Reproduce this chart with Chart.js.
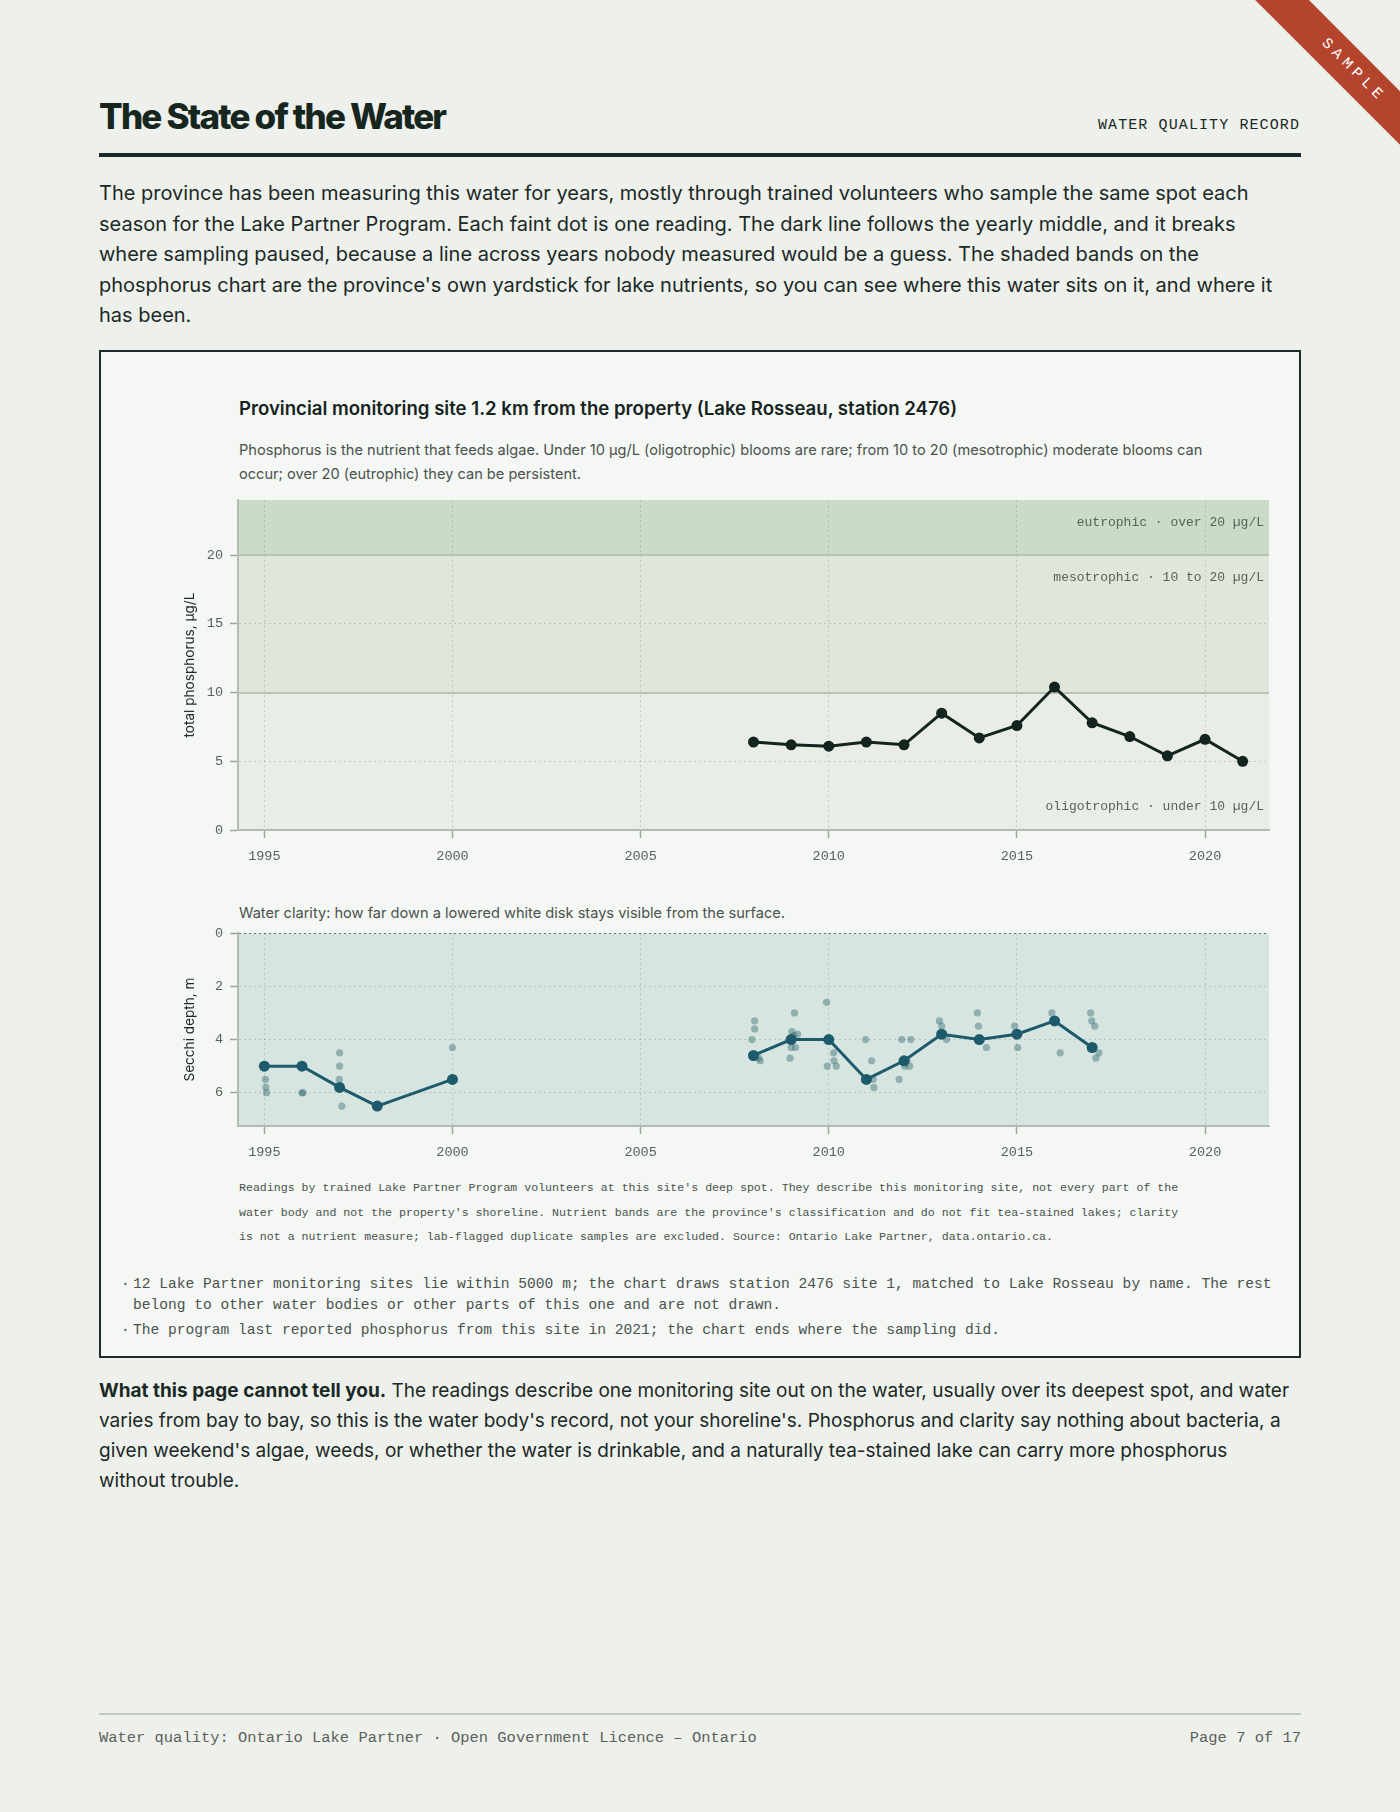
<!DOCTYPE html>
<html>
<head>
<meta charset="utf-8">
<title>The State of the Water</title>
<script src="https://cdn.jsdelivr.net/npm/chart.js@4.4.0/dist/chart.umd.min.js"></script>
<style>
  html, body { margin: 0; padding: 0; }
  body {
    width: 1400px; height: 1812px; position: relative; overflow: hidden;
    background: #eef0eb; color: #1b2926;
    font-family: Inter, Roboto, "Noto Sans", sans-serif;
  }
  .abs { position: absolute; white-space: nowrap; }
  .mono { font-family: "Liberation Mono", "DejaVu Sans Mono", monospace; }
  #title { left: 99px; top: 96px; font-family: Inter, sans-serif; font-weight: 800; font-size: 35px; line-height: 40px; letter-spacing: -1.8px; color: #16261f; }
  #kicker { right: 100px; top: 116px; font-size: 15px; line-height: 20px; letter-spacing: 1.1px; color: #1b2926; }
  #rule { left: 99px; top: 153px; width: 1202px; height: 4px; background: #18272a; }
  .para { left: 99px; color: #1b2926; }
  #intro { top: 178px; font-size: 20px; line-height: 30.6px; }
  #box { left: 99px; top: 350px; width: 1198px; height: 1004px; border: 2px solid #1c2b2b; background: #f4f7f3; }
  #ctitle { left: 239px; top: 396px; font-size: 18.6px; line-height: 24px; font-weight: 600; color: #16231f; }
  #csub { left: 239px; top: 438px; font-size: 14.6px; line-height: 24px; color: #4a524e; }
  #cap2 { left: 239px; top: 903px; font-size: 14.6px; line-height: 20px; color: #4a524e; }
  .cv { position: absolute; }
  #foot { left: 239px; top: 1176px; font-size: 11.6px; line-height: 24.5px; color: #4a524e; }
  .bul { left: 133px; font-size: 14.6px; line-height: 21px; color: #4a524e; }
  .bul::before { content: "·"; position: absolute; left: -12px; top: 0; }
  #after { top: 1376px; font-size: 19px; line-height: 30.1px; }
  #frule { left: 99px; top: 1713px; width: 1202px; height: 2px; background: #bccabf; }
  .ftxt { top: 1729px; font-size: 15.45px; line-height: 18px; color: #5a615c; }
  #ribbon { left: 1203px; top: 52px; width: 300px; height: 38px; background: #b5442e; color: #fff;
            transform: rotate(45deg); text-align: center; line-height: 38px; font-size: 15px; letter-spacing: 5px; }
</style>
</head>
<body>
<div id="title" class="abs">The State of the Water</div>
<div id="kicker" class="abs mono">WATER QUALITY RECORD</div>
<div id="rule" class="abs"></div>
<div id="ribbon" class="abs mono">SAMPLE</div>

<div id="intro" class="abs para">The province has been measuring this water for years, mostly through trained volunteers who sample the same spot each<br>season for the Lake Partner Program. Each faint dot is one reading. The dark line follows the yearly middle, and it breaks<br>where sampling paused, because a line across years nobody measured would be a guess. The shaded bands on the<br>phosphorus chart are the province's own yardstick for lake nutrients, so you can see where this water sits on it, and where it<br>has been.</div>

<div id="box" class="abs"></div>
<div id="ctitle" class="abs">Provincial monitoring site 1.2 km from the property (Lake Rosseau, station 2476)</div>
<div id="csub" class="abs">Phosphorus is the nutrient that feeds algae. Under 10 µg/L (oligotrophic) blooms are rare; from 10 to 20 (mesotrophic) moderate blooms can<br>occur; over 20 (eutrophic) they can be persistent.</div>
<canvas id="phosChart" class="cv" width="1100" height="385" style="left:180px;top:485px;"></canvas>
<div id="cap2" class="abs">Water clarity: how far down a lowered white disk stays visible from the surface.</div>
<canvas id="secchiChart" class="cv" width="1100" height="248" style="left:180px;top:918px;"></canvas>
<div id="foot" class="abs mono">Readings by trained Lake Partner Program volunteers at this site's deep spot. They describe this monitoring site, not every part of the<br>water body and not the property's shoreline. Nutrient bands are the province's classification and do not fit tea-stained lakes; clarity<br>is not a nutrient measure; lab-flagged duplicate samples are excluded. Source: Ontario Lake Partner, data.ontario.ca.</div>
<div class="abs bul mono" style="top:1274px;">12 Lake Partner monitoring sites lie within 5000 m; the chart draws station 2476 site 1, matched to Lake Rosseau by name. The rest<br>belong to other water bodies or other parts of this one and are not drawn.</div>
<div class="abs bul mono" style="top:1320px;">The program last reported phosphorus from this site in 2021; the chart ends where the sampling did.</div>

<div id="after" class="abs para"><b>What this page cannot tell you.</b> The readings describe one monitoring site out on the water, usually over its deepest spot, and water<br>varies from bay to bay, so this is the water body's record, not your shoreline's. Phosphorus and clarity say nothing about bacteria, a<br>given weekend's algae, weeds, or whether the water is drinkable, and a naturally tea-stained lake can carry more phosphorus<br>without trouble.</div>

<div id="frule" class="abs"></div>
<div class="abs ftxt mono" style="left:99px;">Water quality: Ontario Lake Partner · Open Government Licence – Ontario</div>
<div class="abs ftxt mono" style="right:99px;">Page 7 of 17</div>

<script>
// phosphorus, yearly middle value (µg/L)
var phosYears = [2008, 2009, 2010, 2011, 2012, 2013, 2014, 2015, 2016, 2017, 2018, 2019, 2020, 2021];
var phosValues = [6.4, 6.2, 6.1, 6.4, 6.2, 8.5, 6.7, 7.6, 10.4, 7.8, 6.8, 5.4, 6.6, 5.0];

// Secchi depth, yearly middle value (m)
var secchiYears = [1995, 1996, 1997, 1998, 2000, 2008, 2009, 2010, 2011, 2012, 2013, 2014, 2015, 2016, 2017];
var secchiValues = [5.0, 5.0, 5.8, 6.5, 5.5, 4.6, 4.0, 4.0, 5.5, 4.8, 3.8, 4.0, 3.8, 3.3, 4.3];

// single Secchi readings (decimal date, depth m)
var readingDates = [
  1995.03, 1995.04, 1995.06, 1996.00, 1996.03,
  1997.00, 1997.00, 1996.99, 1997.06, 2000.00,
  2008.03, 2008.03, 2007.96, 2008.14, 2008.18,
  2009.09, 2009.02, 2009.17, 2009.07, 2009.00, 2009.12, 2008.97,
  2009.94, 2010.13, 2010.14, 2009.96, 2010.20,
  2010.98, 2011.14, 2011.18, 2011.20,
  2011.94, 2012.18, 2012.08, 2012.02, 2012.15, 2011.87,
  2012.94, 2013.00, 2013.13,
  2013.95, 2013.98, 2014.19,
  2014.94, 2015.02,
  2015.93, 2016.15,
  2016.96, 2016.99, 2017.07, 2017.18, 2017.10
];
var readingDepths = [
  5.5, 5.8, 6.0, 6.0, 6.0,
  4.5, 5.0, 5.5, 6.5, 4.3,
  3.3, 3.6, 4.0, 4.7, 4.8,
  3.0, 3.7, 3.8, 3.85, 4.3, 4.3, 4.7,
  2.6, 4.5, 4.8, 5.0, 5.0,
  4.0, 4.8, 5.5, 5.8,
  4.0, 4.0, 4.8, 5.0, 5.0, 5.5,
  3.3, 3.5, 4.0,
  3.0, 3.5, 4.3,
  3.5, 4.3,
  3.0, 4.5,
  3.0, 3.3, 3.5, 4.5, 4.7
];

// provincial nutrient bands (µg/L)
var bandEdges = [0, 10, 20, 24];
var bandLabels = ['oligotrophic · under 10 µg/L', 'mesotrophic · 10 to 20 µg/L', 'eutrophic · over 20 µg/L'];
var bandColors = ['#e8eee6', '#dfe6da', '#c9dcc5'];

var xRange = [1994.3, 2021.7];
var monoFont = "'Liberation Mono', 'DejaVu Sans Mono', monospace";
var sansFont = "Inter, Roboto, sans-serif";

function pairs(xs, ys) {
  return xs.map(function(x, i) { return {x: x, y: ys[i]}; });
}

function xScale() {
  return {
    type: 'linear', min: xRange[0], max: xRange[1],
    afterFit: function(s) { s.height = 40; },
    ticks: { stepSize: 5, includeBounds: false, padding: 10, color: '#5a615c',
             font: {family: monoFont, size: 13.5}, callback: function(v) { return String(v); } },
    grid: { color: 'rgba(70,80,70,0.22)', lineWidth: 1, tickLength: 8, tickColor: '#9ba59b', tickWidth: 1.5 },
    border: { display: true, color: '#b3bcb3', width: 2, dash: [2, 3] }
  };
}

var bandPlugin = {
  id: 'bands',
  beforeDraw: function(chart) {
    var a = chart.chartArea, y = chart.scales.y, ctx = chart.ctx;
    ctx.save();
    for (var i = 0; i < bandColors.length; i++) {
      var top = y.getPixelForValue(bandEdges[i + 1]);
      var bot = y.getPixelForValue(bandEdges[i]);
      ctx.fillStyle = bandColors[i];
      ctx.fillRect(a.left, top, a.right - a.left, bot - top);
    }
    ctx.restore();
  },
  beforeDatasetsDraw: function(chart) {
    var a = chart.chartArea, y = chart.scales.y, ctx = chart.ctx;
    ctx.save();
    ctx.strokeStyle = '#b6c3b6';
    ctx.lineWidth = 2;
    for (var i = 1; i < bandEdges.length - 1; i++) {
      var py = Math.round(y.getPixelForValue(bandEdges[i]));
      ctx.beginPath(); ctx.moveTo(a.left, py); ctx.lineTo(a.right, py); ctx.stroke();
    }
    ctx.font = '13px ' + monoFont;
    ctx.fillStyle = '#5a615c';
    ctx.textAlign = 'right';
    ctx.textBaseline = 'middle';
    for (var j = 0; j < bandLabels.length; j++) {
      var ly = j === 0 ? y.getPixelForValue(bandEdges[0]) - 23 : y.getPixelForValue(bandEdges[j + 1]) + 22;
      ctx.fillText(bandLabels[j], a.right - 5, ly);
    }
    ctx.restore();
  }
};

var clarityBg = {
  id: 'clarityBg',
  beforeDraw: function(chart) {
    var a = chart.chartArea, ctx = chart.ctx;
    ctx.save();
    ctx.fillStyle = '#d7e5e1';
    ctx.fillRect(a.left, a.top, a.right - a.left, a.bottom - a.top);
    ctx.restore();
  }
};

new Chart(document.getElementById('phosChart').getContext('2d'), {
  type: 'line',
  data: {
    datasets: [{
      label: 'phosphorus',
      data: pairs(phosYears, phosValues),
      borderColor: '#13231e', backgroundColor: '#13231e',
      borderWidth: 3, pointRadius: 5.5, pointBorderWidth: 0, tension: 0
    }]
  },
  options: {
    responsive: false, animation: false,
    layout: { padding: { top: 13, right: 11, left: 0, bottom: 0 } },
    plugins: { legend: { display: false }, tooltip: { enabled: false } },
    scales: {
      x: xScale(),
      y: {
        type: 'linear', min: 0, max: 24,
        afterFit: function(s) { s.width = 58; },
        title: { display: true, text: 'total phosphorus, µg/L', color: '#1b2926',
                 font: {family: sansFont, size: 13.6}, padding: {top: 2, bottom: 0} },
        ticks: { stepSize: 5, includeBounds: false, padding: 7, color: '#5a615c', font: {family: monoFont, size: 13.5} },
        grid: { color: 'rgba(70,80,70,0.22)', lineWidth: 1, tickLength: 8, tickColor: '#9ba59b', tickWidth: 1.5 },
        border: { display: true, color: '#b3bcb3', width: 2, dash: [2, 3] }
      }
    }
  },
  plugins: [bandPlugin]
});

var teal = '#1d5a6c';
new Chart(document.getElementById('secchiChart').getContext('2d'), {
  type: 'line',
  data: {
    datasets: [{
      label: 'readings',
      data: pairs(readingDates, readingDepths),
      showLine: false,
      backgroundColor: 'rgba(45,100,108,0.42)', borderWidth: 0,
      pointRadius: 3.6, order: 2
    }, {
      label: 'yearly middle',
      data: pairs(secchiYears, secchiValues),
      borderColor: teal, backgroundColor: teal,
      borderWidth: 3, pointRadius: 5.5, pointBorderWidth: 0, tension: 0, order: 1,
      segment: {
        borderColor: function(ctx) { return ctx.p1.parsed.x - ctx.p0.parsed.x > 2 ? 'rgba(0,0,0,0)' : teal; }
      }
    }]
  },
  options: {
    responsive: false, animation: false,
    layout: { padding: { top: 13, right: 11, left: 0, bottom: 0 } },
    plugins: { legend: { display: false }, tooltip: { enabled: false } },
    scales: {
      x: xScale(),
      y: {
        type: 'linear', min: 0, max: 7.25, reverse: true,
        afterFit: function(s) { s.width = 58; },
        title: { display: true, text: 'Secchi depth, m', color: '#1b2926',
                 font: {family: sansFont, size: 13.6}, padding: {top: 2, bottom: 0} },
        ticks: { stepSize: 2, includeBounds: false, padding: 7, color: '#5a615c', font: {family: monoFont, size: 13.5} },
        grid: {
          color: function(c) { return c.tick && c.tick.value === 0 ? 'rgba(45,93,109,0.8)' : 'rgba(70,80,70,0.22)'; },
          lineWidth: 1,
          tickLength: 8, tickColor: '#9ba59b', tickWidth: 1.5
        },
        border: { display: true, color: '#b3bcb3', width: 2, dash: [2, 3] }
      }
    }
  },
  plugins: [clarityBg]
});
</script>
</body>
</html>
